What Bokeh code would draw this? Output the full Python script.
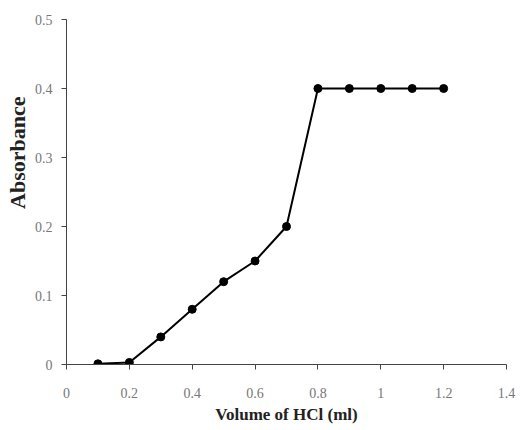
from bokeh.plotting import figure
from bokeh.models import FixedTicker, Range1d, Title
from bokeh.embed import file_html
from bokeh.resources import INLINE

volume = [0.1, 0.2, 0.3, 0.4, 0.5, 0.6, 0.7, 0.8, 0.9, 1.0, 1.1, 1.2]
absorbance = [0.001, 0.003, 0.04, 0.08, 0.12, 0.15, 0.2, 0.4, 0.4, 0.4, 0.4, 0.4]

x_ticks = [0, 0.2, 0.4, 0.6, 0.8, 1.0, 1.2, 1.4]
x_tick_labels = ["0", "0.2", "0.4", "0.6", "0.8", "1", "1.2", "1.4"]
y_ticks = [0, 0.1, 0.2, 0.3, 0.4, 0.5]
y_tick_labels = ["0", "0.1", "0.2", "0.3", "0.4", "0.5"]

W, H = 516, 428
p = figure(width=W, height=H, output_backend="svg", toolbar_location=None,
           x_range=Range1d(0, 1.4), y_range=Range1d(0, 0.5),
           min_border_left=65, min_border_right=10, min_border_top=19, min_border_bottom=64)
p.outline_line_color = None
p.xgrid.visible = False
p.ygrid.visible = False

p.line(volume, absorbance, line_color="black", line_width=2)
p.scatter(volume, absorbance, size=8, fill_color="black", line_color="black")

font = "Liberation Serif"
for ax, ticks, labels in [(p.xaxis[0], x_ticks, x_tick_labels), (p.yaxis[0], y_ticks, y_tick_labels)]:
    ax.ticker = FixedTicker(ticks=ticks)
    ax.major_label_overrides = {t: l for t, l in zip(ticks, labels)}
    ax.minor_tick_line_color = None
    ax.major_tick_in = 0
    ax.major_tick_out = 5
    ax.axis_line_color = "#444444"
    ax.major_tick_line_color = "#444444"
    ax.major_label_text_font = font
    ax.major_label_text_font_size = "14px"
    ax.major_label_text_color = "#777777"
    ax.axis_label_text_font = font
    ax.axis_label_text_font_style = "bold"
    ax.axis_label_text_color = "#222222"

p.xaxis.axis_label = "Volume of HCl (ml)"
p.xaxis.axis_label_text_font_size = "17px"
p.xaxis.major_label_standoff = 18
p.yaxis.major_label_standoff = 9
p.xaxis.axis_label_standoff = 4

ytitle = Title(text="Absorbance", align="right", offset=77,
               text_font=font, text_font_style="bold", text_font_size="22px",
               text_color="#222222", standoff=4)
p.add_layout(ytitle, "left")

open("out.html", "w").write(file_html(p, INLINE))
